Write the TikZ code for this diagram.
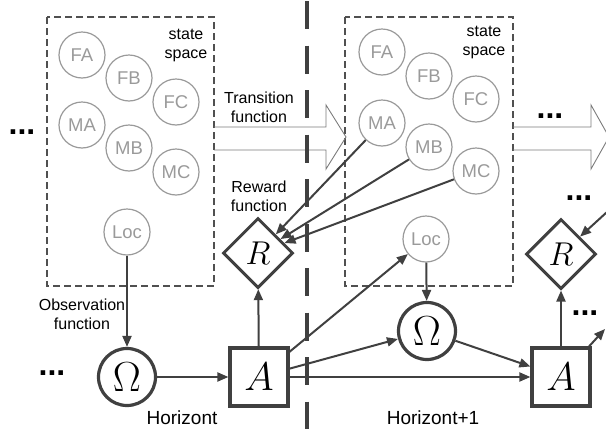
\RequirePackage{fix-cm}
\documentclass[tikz,border=0pt]{standalone}
\usepackage[no-math]{fontspec}
\newfontfamily\labelfont{Liberation Sans}
\usetikzlibrary{shapes.geometric,arrows.meta}
\definecolor{ink}{HTML}{404040}
\definecolor{soft}{HTML}{9A9A9A}
\definecolor{boxline}{HTML}{505050}
\definecolor{hollow}{HTML}{7A7A7A}
\begin{document}
\begin{tikzpicture}[x=1pt,y=-1pt,
  var/.style={circle,draw=soft,line width=1.2pt,minimum size=46pt,inner sep=0pt,
    text=soft,font=\labelfont\fontsize{18.5}{18.5}\selectfont},
  statebox/.style={draw=boxline,line width=1.1pt,dash pattern=on 7pt off 4pt},
  obsnode/.style={circle,draw=ink,line width=3.2pt,minimum size=57pt,inner sep=0pt,
    font=\fontsize{42}{42}\selectfont},
  actnode/.style={rectangle,draw=ink,line width=3.2pt,minimum size=58pt,inner sep=0pt,
    font=\fontsize{40}{40}\selectfont},
  rewnode/.style={diamond,aspect=1,draw=ink,line width=3pt,minimum width=70pt,
    minimum height=70pt,inner sep=0pt,font=\fontsize{33}{33}\selectfont},
  conn/.style={draw=ink,line width=2pt,-{Triangle[length=11pt,width=9pt]}},
  bigarrow/.style={draw=hollow,line width=0.9pt,line join=miter},
  caption/.style={font=\labelfont\fontsize{16}{19}\selectfont,align=center,inner sep=0pt},
  horizon/.style={font=\labelfont\fontsize{19}{19}\selectfont,inner sep=0pt},
  dots/.style={font=\labelfont\bfseries\fontsize{32}{32}\selectfont,inner sep=0pt},
  divider/.style={draw=ink,line width=3.5pt,dash pattern=on 28pt off 16.5pt}]

\useasboundingbox (0,0) rectangle (606,429);
\clip (0,0) rectangle (606,429);

% state spaces of the two horizons
\draw[statebox] (47,17) rectangle (214,286);
\draw[statebox] (345,17) rectangle (513,286);

\node[caption] (ss1) at (186,45) {state\\space};
\node[caption] (ss2) at (484,42) {state\\space};

% state variables, horizon t
\node[var] (fa1) at (82,55) {FA};
\node[var] (fb1) at (129,78) {FB};
\node[var] (fc1) at (176,102) {FC};
\node[var] (ma1) at (82,125) {MA};
\node[var] (mb1) at (129,148) {MB};
\node[var] (mc1) at (176,172) {MC};
\node[var] (loc1) at (127,232) {Loc};

% state variables, horizon t+1
\node[var] (fa2) at (382,52) {FA};
\node[var] (fb2) at (429,76) {FB};
\node[var] (fc2) at (476,99) {FC};
\node[var] (ma2) at (382,123) {MA};
\node[var] (mb2) at (429,147) {MB};
\node[var] (mc2) at (476,171) {MC};
\node[var] (loc2) at (426,239) {Loc};

% hollow transition arrows
\draw[bigarrow] (214,127) -- (326,127) -- (326,105) -- (346,137) -- (326,169) -- (326,150) -- (214,150);
\draw[bigarrow] (513,127) -- (591,127) -- (591,105) -- (609,137) -- (591,169) -- (591,150) -- (513,150);

% boundary between horizons
\draw[divider] (307,1) -- (307,429);

% labels
\node[caption] (trlab) at (259,107) {Transition\\function};
\node[caption] (rwlab) at (259,196) {Reward\\function};
\node[caption] (oblab) at (82,314) {Observation\\function};
\node[horizon] (h1) at (182,418) {Horizont};
\node[horizon] (h2) at (433,418) {Horizont+1};

\node[dots] (d1) at (22,132) {...};
\node[dots] (d2) at (550,116) {...};
\node[dots] (d3) at (579,198) {...};
\node[dots] (d4) at (52,373) {...};
\node[dots] (d5) at (585,313) {...};

% decision network nodes
\node[obsnode] (om1) at (127,377) {$\Omega$};
\node[actnode] (a1) at (259,377) {$A$};
\node[rewnode] (r1) at (258,253) {$R$};
\node[obsnode] (om2) at (427,331) {$\Omega$};
\node[actnode] (a2) at (561,377) {$A$};
\node[rewnode] (r2) at (561,254) {$R$};

\coordinate (outA) at (605,329);
\coordinate (inR) at (607,212);

% connectors
\draw[conn] (loc1) -- (om1);
\draw[conn] (om1) -- (a1);
\draw[conn] (a1) -- (r1);
\draw[conn] (ma2) -- (r1);
\draw[conn] (mb2) -- (r1);
\draw[conn] (mc2) -- (r1);
\draw[conn] (a1) -- (loc2);
\draw[conn] (a1) -- (om2);
\draw[conn] (a1) -- (a2);
\draw[conn] (loc2) -- (om2);
\draw[conn] (om2) -- (a2);
\draw[conn] (a2) -- (r2);
\draw[conn] (a2) -- (outA);
\draw[conn] (inR) -- (r2);
\end{tikzpicture}
\end{document}
